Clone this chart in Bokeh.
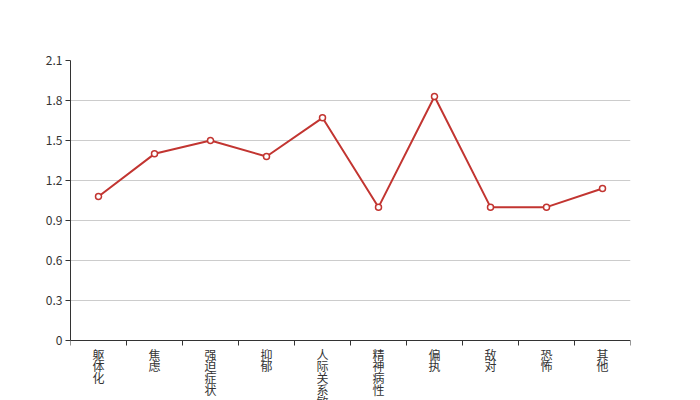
import math
from bokeh.plotting import figure
from bokeh.models import Range1d, FixedTicker, Span
from bokeh.core.properties import value
from bokeh.embed import file_html
from bokeh.resources import INLINE

categories = ["躯体化", "焦虑", "强迫症状", "抑郁", "人际关系敏感", "精神病性", "偏执", "敌对", "恐怖", "其他"]
values = [1.08, 1.40, 1.50, 1.38, 1.67, 1.00, 1.83, 1.00, 1.00, 1.14]
y_ticks = [0, 0.3, 0.6, 0.9, 1.2, 1.5, 1.8, 2.1]

n = len(categories)
xs = [i + 0.5 for i in range(n)]
boundaries = list(range(n + 1))

Y_MAX = 2.1
Y_MIN = -0.45  # room under the x axis for the stacked category labels

p = figure(width=700, height=400, output_backend="svg", toolbar_location=None,
           x_range=Range1d(0, n), y_range=Range1d(Y_MIN, Y_MAX),
           x_axis_location=None,
           min_border_left=70, min_border_right=70, min_border_top=60, min_border_bottom=0)
p.outline_line_color = None
p.background_fill_color = "white"
p.border_fill_color = "white"

font = "Noto Sans CJK SC"

# y grid / axis
p.ygrid.grid_line_color = "#cccccc"
p.ygrid.ticker = FixedTicker(ticks=y_ticks)
p.xgrid.visible = False
p.yaxis.ticker = FixedTicker(ticks=y_ticks)
p.yaxis.bounds = (0, Y_MAX)
p.yaxis.major_label_overrides = {t: ("0" if t == 0 else f"{t:.1f}") for t in y_ticks}
p.yaxis.major_tick_out = 5
p.yaxis.major_tick_in = 0
p.yaxis.minor_tick_out = 0
p.yaxis.minor_tick_in = 0
p.yaxis.axis_line_color = "#333333"
p.yaxis.major_tick_line_color = "#333333"
p.yaxis.major_label_text_font = font
p.yaxis.major_label_text_font_size = "12px"
p.yaxis.major_label_text_color = "#333333"
p.yaxis.major_label_standoff = 3

# x axis line at y = 0 with ticks at category boundaries
p.add_layout(Span(location=0, dimension="width", line_color="#333333", line_width=1))
p.ray(x=boundaries, y=[0] * len(boundaries), length=5, length_units="screen",
      angle=-math.pi / 2, line_color="#333333", line_width=1)

# category labels, characters stacked vertically
p.text(x=xs, y=[0] * n, text=["\n".join(c) for c in categories], y_offset=5,
       text_align="center", text_baseline="top", text_font=value(font),
       text_font_size="12px", text_color="#333333", text_line_height=0.7)

# series
p.line(xs, values, line_color="#c23531", line_width=2)
p.scatter(xs, values, size=6, marker="circle", fill_color="white",
          line_color="#c23531", line_width=1.5)

open("out.html", "w").write(file_html(p, INLINE))
